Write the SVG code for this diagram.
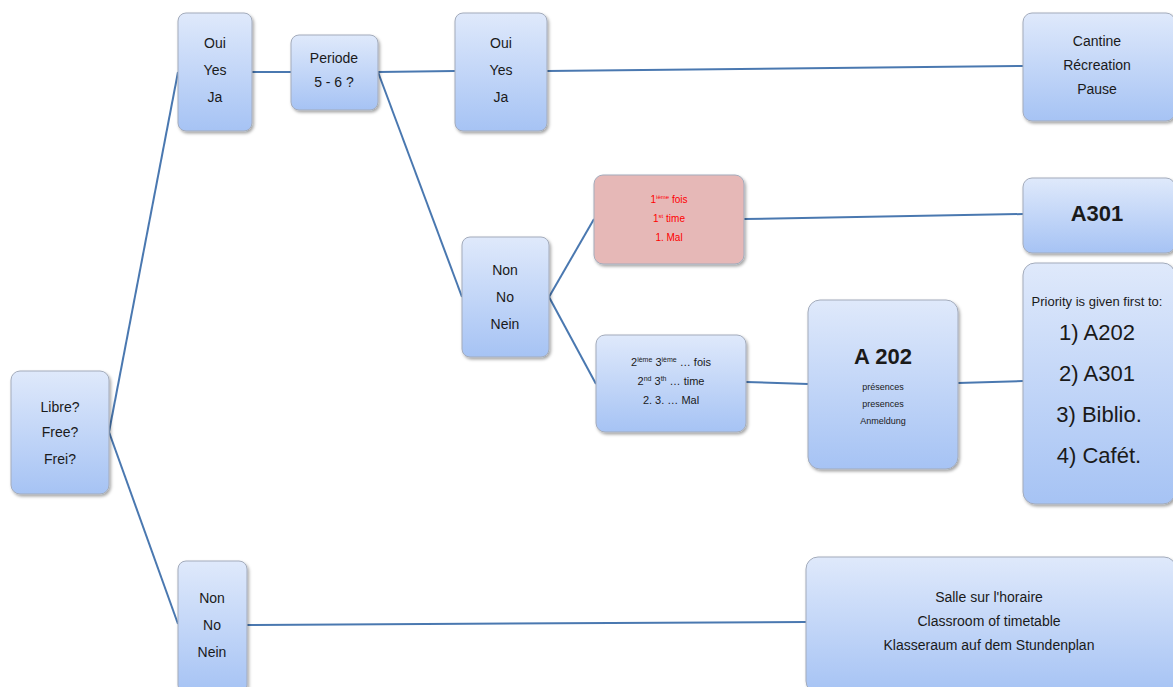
<svg xmlns="http://www.w3.org/2000/svg" width="1173" height="687" viewBox="0 0 1173 687">
<defs>
<linearGradient id="g" x1="0" y1="0" x2="0" y2="1">
<stop offset="0" stop-color="#dfe9fb"/>
<stop offset="1" stop-color="#a6c3f4"/>
</linearGradient>
<filter id="sh" x="-10%" y="-10%" width="130%" height="130%">
<feDropShadow dx="1.5" dy="2" stdDeviation="1.5" flood-color="#000" flood-opacity="0.35"/>
</filter>
<style>
.b{fill:url(#g);stroke:#a3abbb;stroke-width:1;filter:url(#sh)}
.r{fill:#e6b8b7;stroke:#a3abbb;stroke-width:1;filter:url(#sh)}
.c{stroke:#4a78b0;stroke-width:2;fill:none}
text{font-family:"Liberation Sans",Arial,sans-serif;fill:#1a1a1a;text-anchor:middle}
.t{font-size:14px}
.s{font-size:14px}
.x{font-size:11px}
.red{fill:#ff0000;font-size:10px}
.big{font-size:22px;font-weight:bold}
.lg{font-size:22px}
.p{font-size:13px}
.sm{font-size:9px}
</style>
</defs>
<rect width="1173" height="687" fill="#ffffff"/>
<g id="connectors">
<line class="c" x1="109" y1="432" x2="178" y2="72"/>
<line class="c" x1="109" y1="432" x2="178" y2="624"/>
<line class="c" x1="252" y1="72" x2="291" y2="72"/>
<line class="c" x1="378" y1="72" x2="455" y2="71"/>
<line class="c" x1="378" y1="72" x2="462" y2="297"/>
<line class="c" x1="547" y1="71" x2="1023" y2="66"/>
<line class="c" x1="549" y1="297" x2="594" y2="219"/>
<line class="c" x1="549" y1="297" x2="596" y2="384"/>
<line class="c" x1="744" y1="219" x2="1023" y2="214"/>
<line class="c" x1="746" y1="382" x2="808" y2="384"/>
<line class="c" x1="958" y1="383" x2="1023" y2="381"/>
<line class="c" x1="247" y1="625" x2="806" y2="622"/>
</g>
<g id="libre">
<rect class="b" x="11" y="371" width="98" height="123" rx="9"/>
<text class="t" x="60" y="412">Libre?</text>
<text class="t" x="60" y="437">Free?</text>
<text class="t" x="60" y="464">Frei?</text>
</g>
<g id="oui1">
<rect class="b" x="178" y="13" width="74" height="118" rx="8"/>
<text class="t" x="215" y="48">Oui</text>
<text class="t" x="215" y="75">Yes</text>
<text class="t" x="215" y="102">Ja</text>
</g>
<g id="periode">
<rect class="b" x="291" y="35" width="87" height="75" rx="8"/>
<text class="t" x="334" y="63">Periode</text>
<text class="t" x="334" y="87">5 - 6 ?</text>
</g>
<g id="oui2">
<rect class="b" x="455" y="13" width="92" height="118" rx="8"/>
<text class="t" x="501" y="48">Oui</text>
<text class="t" x="501" y="75">Yes</text>
<text class="t" x="501" y="102">Ja</text>
</g>
<g id="cantine">
<rect class="b" x="1023" y="13" width="152" height="108" rx="9"/>
<text class="s" x="1097" y="46">Cantine</text>
<text class="s" x="1097" y="70">Récreation</text>
<text class="s" x="1097" y="94">Pause</text>
</g>
<g id="non-mid">
<rect class="b" x="462" y="237" width="87" height="120" rx="8"/>
<text class="t" x="505" y="275">Non</text>
<text class="t" x="505" y="302">No</text>
<text class="t" x="505" y="329">Nein</text>
</g>
<g id="first">
<rect class="r" x="594" y="175" width="150" height="89" rx="9"/>
<text class="red" x="669" y="203">1<tspan font-size="6" dy="-4">ième</tspan><tspan dy="4"> fois</tspan></text>
<text class="red" x="669" y="222">1<tspan font-size="6" dy="-4">st</tspan><tspan dy="4"> time</tspan></text>
<text class="red" x="669" y="241">1. Mal</text>
</g>
<g id="a301">
<rect class="b" x="1023" y="178" width="152" height="75" rx="9"/>
<text class="big" x="1097" y="221">A301</text>
</g>
<g id="second">
<rect class="b" x="596" y="335" width="150" height="97" rx="9"/>
<text class="x" x="671" y="366">2<tspan font-size="7" dy="-4">ième</tspan><tspan dy="4"> 3</tspan><tspan font-size="7" dy="-4">ième</tspan><tspan dy="4"> … fois</tspan></text>
<text class="x" x="671" y="385">2<tspan font-size="7" dy="-4">nd</tspan><tspan dy="4"> 3</tspan><tspan font-size="7" dy="-4">th</tspan><tspan dy="4"> … time</tspan></text>
<text class="x" x="671" y="404">2. 3. … Mal</text>
</g>
<g id="a202">
<rect class="b" x="808" y="300" width="150" height="169" rx="12"/>
<text class="big" x="883" y="364">A 202</text>
<text class="sm" x="883" y="390">présences</text>
<text class="sm" x="883" y="407">presences</text>
<text class="sm" x="883" y="424">Anmeldung</text>
</g>
<g id="priority">
<rect class="b" x="1023" y="263" width="152" height="241" rx="12"/>
<text class="p" x="1097" y="306">Priority is given first to:</text>
<text class="lg" x="1097" y="340">1) A202</text>
<text class="lg" x="1097" y="381">2) A301</text>
<text class="lg" x="1099" y="422">3) Biblio.</text>
<text class="lg" x="1099" y="463">4) Cafét.</text>
</g>
<g id="non-bottom">
<rect class="b" x="178" y="561" width="69" height="132" rx="8"/>
<text class="t" x="212" y="603">Non</text>
<text class="t" x="212" y="630">No</text>
<text class="t" x="212" y="657">Nein</text>
</g>
<g id="salle">
<rect class="b" x="806" y="557" width="370" height="136" rx="12"/>
<text class="s" x="989" y="602">Salle sur l'horaire</text>
<text class="s" x="989" y="626">Classroom of  timetable</text>
<text class="s" x="989" y="650">Klasseraum auf dem Stundenplan</text>
</g>
</svg>
